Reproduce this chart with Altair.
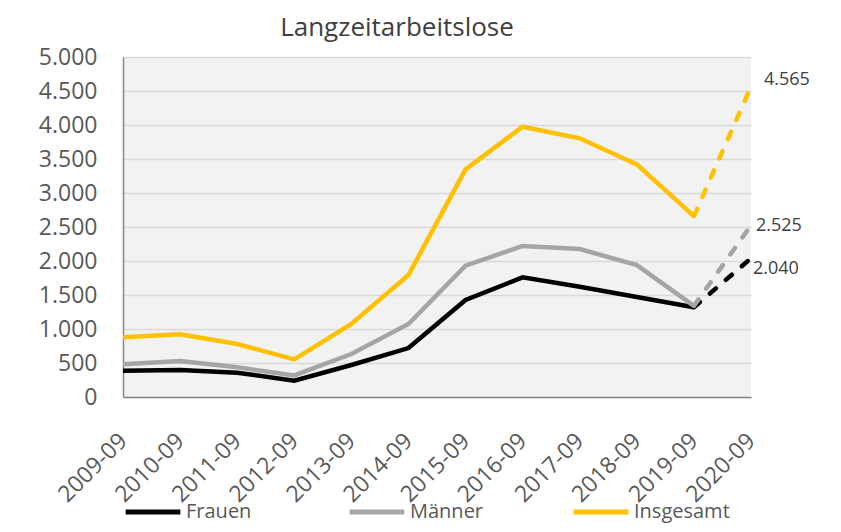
import altair as alt
import pandas as pd

years = ["2009-09", "2010-09", "2011-09", "2012-09", "2013-09", "2014-09",
         "2015-09", "2016-09", "2017-09", "2018-09", "2019-09", "2020-09"]
frauen = [387, 397, 357, 240, 470, 720, 1426, 1760, 1620, 1470, 1320, 2040]
maenner = [480, 529, 436, 318, 632, 1074, 1931, 2221, 2176, 1940, 1340, 2525]
insgesamt = [878, 922, 779, 554, 1074, 1794, 3348, 3975, 3804, 3420, 2660, 4565]
series_names = ["Frauen", "Männer", "Insgesamt"]
series_colors = ["#000000", "#a5a5a5", "#ffc000"]
y_ticks = [0, 500, 1000, 1500, 2000, 2500, 3000, 3500, 4000, 4500, 5000]

rows = []
for name, vals in zip(series_names, [frauen, maenner, insgesamt]):
    for i, (yr, v) in enumerate(zip(years, vals)):
        rows.append({"serie": name, "jahr": yr, "wert": v, "idx": i})
df = pd.DataFrame(rows)
last = len(years) - 1
ist = df[df.idx <= last - 1]
prog = df[df.idx >= last - 1]
lab = df[df.idx == last]

FONT = "Open Sans"
x = alt.X("jahr:O", sort=years, scale=alt.Scale(padding=0),
          axis=alt.Axis(title=None, labelAngle=-45, labelAlign="right", labelBaseline="middle",
                        labelFontSize=23, labelColor="#595959", labelPadding=40,
                        ticks=False, tickSize=0, domainColor="#898989", domainWidth=1.5,
                        grid=False, labelFont=FONT))
y = alt.Y("wert:Q", scale=alt.Scale(domain=[0, 5000], nice=False, zero=True),
          axis=alt.Axis(title=None, values=y_ticks,
                        labelExpr="replace(format(datum.value, ','), ',', '.')",
                        labelFontSize=23, labelColor="#595959", labelPadding=26,
                        ticks=False, tickSize=0, domainColor="#898989", domainWidth=1.5,
                        gridColor="#d9d9d9", gridWidth=1.5, labelFont=FONT))
color = alt.Color("serie:N", scale=alt.Scale(domain=series_names, range=series_colors),
                  legend=alt.Legend(title=None, orient="none", legendX=0, legendY=425,
                                    direction="horizontal", symbolType="stroke",
                                    symbolSize=3000, symbolStrokeWidth=5,
                                    labelFontSize=20, labelColor="#595959", labelFont=FONT,
                                    columnPadding=57, gridAlign="all", labelOffset=3))

solid = alt.Chart(ist).mark_line(strokeWidth=4.5).encode(x=x, y=y, color=color, detail="serie:N")
dashed = alt.Chart(prog).mark_line(strokeWidth=4.5, strokeDash=[8, 13], strokeCap="round").encode(
    x=x, y=y, color=color, detail="serie:N")

def label_layer(name, dx, dy):
    return alt.Chart(lab[lab.serie == name]).transform_calculate(
        label="replace(format(datum.wert, ','), ',', '.')"
    ).mark_text(align="left", baseline="middle", dx=dx, dy=dy, fontSize=18,
                color="#404040", font=FONT).encode(x=x, y=y, text="label:N")

chart = alt.layer(
    solid, dashed,
    label_layer("Insgesamt", 13, -7),
    label_layer("Männer", 5, 1),
    label_layer("Frauen", 2, 11),
).properties(
    width=628, height=340,
    title=alt.TitleParams("Langzeitarbeitslose", fontSize=26, color="#404040", font=FONT,
                          fontWeight="normal", anchor="middle", dx=-40, offset=5),
    autosize=alt.AutoSizeParams(type="none"),
    padding={"left": 115, "top": 49, "right": 82, "bottom": 127},
).configure(font=FONT, background="white").configure_view(fill="#f2f2f2", strokeWidth=0)

chart.save("out.html", embed_options={"renderer": "svg", "actions": False})
